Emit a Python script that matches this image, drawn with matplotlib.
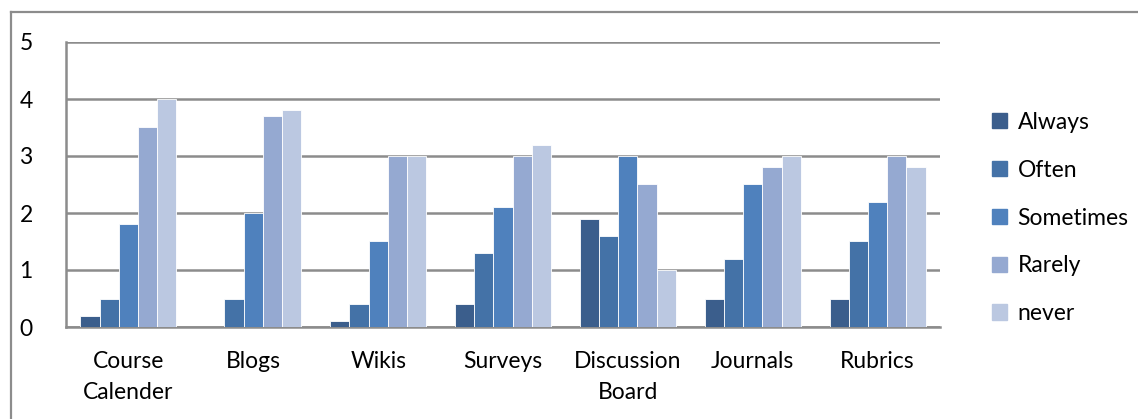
import numpy as np
import matplotlib.pyplot as plt
from matplotlib.lines import Line2D
from matplotlib.patches import Patch

# data
categories = ["Course\nCalender", "Blogs", "Wikis", "Surveys",
              "Discussion\nBoard", "Journals", "Rubrics"]
series = ["Always", "Often", "Sometimes", "Rarely", "never"]
always = [0.2, 0.0, 0.1, 0.4, 1.9, 0.5, 0.5]
often = [0.5, 0.5, 0.4, 1.3, 1.6, 1.2, 1.5]
sometimes = [1.8, 2.0, 1.5, 2.1, 3.0, 2.5, 2.2]
rarely = [3.5, 3.7, 3.0, 3.0, 2.5, 2.8, 3.0]
never = [4.0, 3.8, 3.0, 3.2, 1.0, 3.0, 2.8]
values = [always, often, sometimes, rarely, never]
colors = ["#3B5E8C", "#4472A7", "#4F81BD", "#95A9D1", "#BBC8E1"]

plt.rcParams['font.family'] = ['Lato', 'DejaVu Sans']
fs = 16.5

fig = plt.figure(figsize=(11.38, 4.19), dpi=100)
ax = fig.add_axes([66/1138, 1-327/419, 874/1138, 285/419])

x = np.arange(len(categories))
w = 0.154
for i, (vals, c) in enumerate(zip(values, colors)):
    ax.bar(x + (i - 2) * w, vals, width=w, color=c, edgecolor="white",
           linewidth=0.6, zorder=3, label=series[i])

ax.set_xlim(-0.5, len(categories) - 0.5)
ax.set_ylim(0, 5)
ax.set_yticks(range(6))
ax.set_xticks(x)
ax.set_xticklabels(categories, fontsize=fs, linespacing=1.62)
ax.tick_params(axis='x', length=0, pad=17)
ax.tick_params(axis='y', length=0, pad=24, labelsize=fs)
ax.grid(axis='y', color="#8C8C8C", linewidth=1.8, zorder=0)
for s in ["top", "right"]:
    ax.spines[s].set_visible(False)
for s in ["left", "bottom"]:
    ax.spines[s].set_color("#8C8C8C")
    ax.spines[s].set_linewidth(1.8)

# outer chart frame
fx = 11/1138
fy = 1 - 12/419
fig.add_artist(Line2D([fx, fx], [0, fy], color="#8C8C8C", linewidth=1.6))
fig.add_artist(Line2D([fx, 1], [fy, fy], color="#8C8C8C", linewidth=1.6))

handles = [Patch(color=c, label=s) for c, s in zip(colors, series)]
fig.legend(handles=handles, loc="center left",
           bbox_to_anchor=(981/1138, 1-218/419), frameon=False,
           fontsize=fs, handlelength=0.65, handleheight=0.65,
           handletextpad=0.45, labelspacing=1.17, borderpad=0)

fig.savefig("out.png", dpi=100)
